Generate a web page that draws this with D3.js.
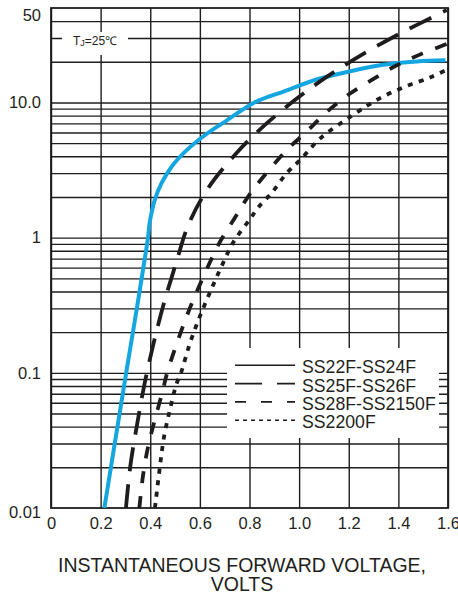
<!DOCTYPE html>
<html>
<head>
<meta charset="utf-8">
<script src="https://cdn.jsdelivr.net/npm/d3@7"></script>
<style>
body { margin: 0; background: #fff; }
text { font-family: "Liberation Sans", Arial, sans-serif; fill: #231f20; }
</style>
</head>
<body>
<svg id="chart" width="458" height="597"></svg>
<script>
"use strict";

//
//   DATA
//

var xTicks = [0, 0.2, 0.4, 0.6, 0.8, 1.0, 1.2, 1.4, 1.6];
var xTickLabels = ["0", "0.2", "0.4", "0.6", "0.8", "1.0", "1.2", "1.4", "1.6"];
var yTicks = [0.01, 0.1, 1, 10, 50];
var yTickLabels = ["0.01", "0.1", "1", "10.0", "50"];
var yGrid = [0.02, 0.03, 0.04, 0.05, 0.06, 0.07, 0.08, 0.09,
             0.1, 0.2, 0.3, 0.4, 0.5, 0.6, 0.7, 0.8, 0.9,
             1, 2, 3, 4, 5, 6, 7, 8, 9,
             10, 20, 30, 40];

var seriesNames = ["SS22F-SS24F", "SS25F-SS26F", "SS28F-SS2150F", "SS2200F"];

// volts / amps
var ss22V = [0.215, 0.303, 0.346, 0.378, 0.391, 0.398, 0.419, 0.446, 0.486, 0.547, 0.628, 0.708, 0.82, 0.94, 1.07, 1.205, 1.339, 1.474, 1.59];
var ss22I = [0.01, 0.1, 0.3, 0.7, 1.0, 1.3, 1.92, 2.54, 3.35, 4.44, 5.87, 7.35, 10, 12.1, 14.8, 17.0, 19.0, 20.1, 20.5];

var ss25V = [0.302, 0.320, 0.347, 0.377, 0.414, 0.455, 0.503, 0.555, 0.633, 0.736, 0.835, 0.979, 1.114, 1.257, 1.400, 1.595];
var ss25I = [0.01, 0.0206, 0.0416, 0.083, 0.167, 0.327, 0.64, 1.26, 2.32, 4.0, 6.15, 10.3, 15.6, 22.8, 31.9, 48.3];

var ss28V = [0.356, 0.372, 0.392, 0.419, 0.449, 0.468, 0.512, 0.552, 0.594, 0.641, 0.681, 0.748, 0.807, 0.951, 1.027, 1.108, 1.198, 1.293, 1.390, 1.484, 1.595];
var ss28I = [0.01, 0.018, 0.0288, 0.0454, 0.072, 0.1, 0.175, 0.277, 0.425, 0.66, 0.93, 1.47, 2.17, 4.47, 6.0, 8.4, 11.4, 14.7, 18.7, 22.5, 27.1];

var ss2200V = [0.419, 0.439, 0.456, 0.480, 0.506, 0.524, 0.557, 0.596, 0.641, 0.685, 0.735, 0.802, 0.836, 0.89, 0.95, 1.007, 1.084, 1.212, 1.319, 1.427, 1.528, 1.595];
var ss2200I = [0.01, 0.0203, 0.034, 0.054, 0.083, 0.1, 0.159, 0.251, 0.395, 0.60, 0.925, 1.37, 1.68, 2.15, 3.0, 3.8, 5.4, 7.96, 10.6, 13.1, 15.3, 17.5];


//
//   SET UP CHART
//

var BLUE = "#14a6e1";
var INK = "#1f1c1d";
var margin = { left: 51, top: 8, right: 10, bottom: 89 };
var width = 397;
var height = 500;

var series = [
    { name: seriesNames[0], v: ss22V, i: ss22I, color: BLUE, width: 4, dash: null, legendDash: null },
    { name: seriesNames[1], v: ss25V, i: ss25I, color: INK, width: 3.8, dash: "24,13", legendDash: "27,15" },
    { name: seriesNames[2], v: ss28V, i: ss28I, color: INK, width: 3.8, dash: "12,13", legendDash: "11,15" },
    { name: seriesNames[3], v: ss2200V, i: ss2200I, color: INK, width: 3.8, dash: "5,6.5", legendDash: "4,4" }
];

var svg = d3.select("#chart");
var plot = svg.append("g").attr("transform", translate(margin.left, margin.top));

var x = d3.scaleLinear().domain([0, 1.6]).range([0, width]);
var y = d3.scaleLog().domain([0.01, 50]).range([height, 0]);

// Gridlines
var hGrid = plot.append("g")
    .call(d3.axisLeft(y).tickValues(yGrid).tickSize(-width).tickFormat(""));
var vGrid = plot.append("g")
    .attr("transform", translate(0, height))
    .call(d3.axisBottom(x).tickValues(xTicks).tickSize(-height).tickFormat(""));
[hGrid, vGrid].forEach(function (g) {
    g.select(".domain").remove();
    g.selectAll("line").attr("stroke", INK).attr("stroke-width", 1.4);
});

// White boxes behind the labels
plot.append("rect")
    .attr("x", 11).attr("y", 24).attr("width", 66).attr("height", 23)
    .attr("fill", "#fff");
plot.append("rect")
    .attr("x", 176).attr("y", 340).attr("width", 212).attr("height", 90)
    .attr("fill", "#fff");

// Frame
plot.append("rect")
    .attr("width", width).attr("height", height)
    .attr("fill", "none").attr("stroke", INK).attr("stroke-width", 1.8);

// Curves
plot.append("clipPath").attr("id", "clip")
    .append("rect").attr("width", width).attr("height", height);

var line = d3.line()
    .x(function (d) { return x(d[0]); })
    .y(function (d) { return y(d[1]); })
    .curve(d3.curveCatmullRom.alpha(0.5));

plot.append("g").attr("clip-path", "url(#clip)")
    .selectAll("path.curve").data(series).enter().append("path")
    .attr("class", "curve")
    .attr("d", function (s) { return line(d3.zip(s.v, s.i)); })
    .attr("fill", "none")
    .attr("stroke", function (s) { return s.color; })
    .attr("stroke-width", function (s) { return s.width; })
    .attr("stroke-dasharray", function (s) { return s.dash; });


//
//   AXES + TEXT
//

var xAxis = plot.append("g")
    .attr("transform", translate(0, height))
    .call(d3.axisBottom(x).tickValues(xTicks).tickSize(0).tickPadding(9)
        .tickFormat(function (d, i) { return xTickLabels[i]; }));
var yAxis = plot.append("g")
    .call(d3.axisLeft(y).tickValues(yTicks).tickSize(0).tickPadding(10)
        .tickFormat(function (d, i) { return yTickLabels[i]; }));
[xAxis, yAxis].forEach(function (g) {
    g.select(".domain").remove();
    g.selectAll("text").attr("font-size", 16.5).attr("font-family", null).attr("fill", INK);
});
// top and bottom labels sit a little lower than their lines
yAxis.selectAll("text").attr("dy", function (d) {
    if (d == 50) return "0.75em";
    if (d == 0.01) return "0.55em";
    return "0.32em";
});

// Tj note
var tj = plot.append("text").attr("x", 22).attr("y", 37).attr("font-size", 12);
tj.append("tspan").text("T");
tj.append("tspan").attr("font-size", 9).attr("dy", 1).text("J");
tj.append("tspan").attr("dy", -1).text("=25℃");

// Legend
var legend = plot.append("g").selectAll("g").data(series).enter().append("g")
    .attr("transform", function (s, i) { return translate(0, 365.3 + i * 18.3); });
legend.append("line")
    .attr("x1", 184).attr("x2", 244)
    .attr("y1", -8).attr("y2", -8)
    .attr("stroke", INK).attr("stroke-width", 1.6)
    .attr("stroke-dasharray", function (s) { return s.legendDash; });
legend.append("text")
    .attr("x", 251)
    .attr("font-size", 17.7)
    .text(function (s) { return s.name; });

// X title
svg.append("text").attr("x", 242).attr("y", 572).attr("font-size", 19.5)
    .attr("text-anchor", "middle").text("INSTANTANEOUS FORWARD VOLTAGE,");
svg.append("text").attr("x", 242).attr("y", 591).attr("font-size", 19.5)
    .attr("text-anchor", "middle").text("VOLTS");


//
//   HELPERS
//

function translate(a, b) {
    return "translate(" + a + "," + b + ")";
}
</script>
</body>
</html>
